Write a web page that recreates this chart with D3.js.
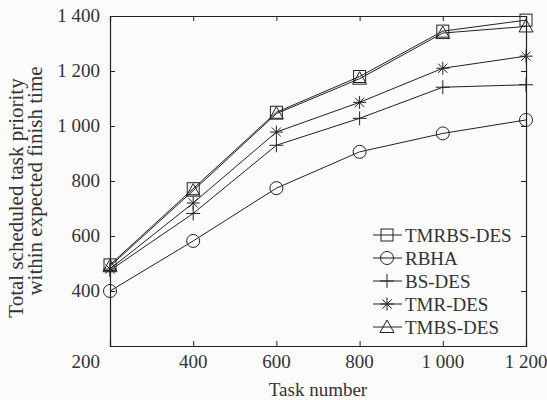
<!DOCTYPE html>
<html><head><meta charset="utf-8">
<script src="https://cdn.jsdelivr.net/npm/d3@7"></script>
<style>body{margin:0;background:#fbfbfb;} svg{display:block;} text{font-family:'Liberation Serif','Times New Roman',serif;}</style>
</head><body>
<script>
const taskNumbers = [200, 400, 600, 800, 1000, 1200];
const seriesNames = ["TMRBS-DES", "RBHA", "BS-DES", "TMR-DES", "TMBS-DES"];
const TMRBS_DES = [495, 772, 1050, 1180, 1345, 1385];
const RBHA = [400, 582, 774, 906, 973, 1022];
const BS_DES = [475, 682, 930, 1028, 1141, 1150];
const TMR_DES = [480, 720, 978, 1086, 1210, 1254];
const TMBS_DES = [490, 765, 1045, 1172, 1338, 1362];
const xTicks = [200, 400, 600, 800, 1000, 1200];
const yTicks = [200, 400, 600, 800, 1000, 1200, 1400];
const markers = ["square", "circle", "plus", "star", "triangle"];
const seriesValues = [TMRBS_DES, RBHA, BS_DES, TMR_DES, TMBS_DES];

const W = 547, H = 400;
const m = {left: 110, top: 16, right: 526, bottom: 346};
const svg = d3.select("body").append("svg").attr("width", W).attr("height", H);
svg.append("rect").attr("width", W).attr("height", H).attr("fill", "#fbfbfb");

const x = d3.scaleLinear().domain([200, 1200]).range([m.left, m.right]);
const y = d3.scaleLinear().domain([200, 1400]).range([m.bottom, m.top]);
const fmt = v => { const s = String(v); return s.length > 3 ? s.slice(0, s.length-3) + " " + s.slice(-3) : s; };
const ink = "#222";
const txt = "#333";

// axes with inward ticks
const tl = 5;
const gx = svg.append("g").attr("transform", `translate(0,${m.bottom})`)
  .call(d3.axisBottom(x).tickValues(xTicks).tickSize(-tl).tickFormat(""));
const gxt = svg.append("g").attr("transform", `translate(0,${m.top})`)
  .call(d3.axisTop(x).tickValues(xTicks).tickSize(-tl).tickFormat(""));
const gy = svg.append("g").attr("transform", `translate(${m.left},0)`)
  .call(d3.axisLeft(y).tickValues(yTicks).tickSize(-tl).tickFormat(""));
const gyr = svg.append("g").attr("transform", `translate(${m.right},0)`)
  .call(d3.axisRight(y).tickValues(yTicks).tickSize(-tl).tickFormat(""));
[gx, gxt, gy, gyr].forEach(g => {
  g.selectAll("path").attr("stroke", ink).attr("stroke-width", 1.2);
  g.selectAll("line").attr("stroke", ink).attr("stroke-width", 1);
});

// tick labels
svg.append("g").selectAll("text").data(xTicks.filter(d => d !== 200)).join("text")
  .attr("x", d => x(d)).attr("y", 368).attr("text-anchor", "middle")
  .attr("font-size", 19).attr("fill", txt).text(fmt);
svg.append("text").attr("x", 100).attr("y", 368).attr("text-anchor", "end")
  .attr("font-size", 19).attr("fill", txt).text(fmt(xTicks[0]));
svg.append("g").selectAll("text").data(yTicks.filter(d => d !== 200)).join("text")
  .attr("x", 100).attr("y", d => y(d) + 6).attr("text-anchor", "end")
  .attr("font-size", 19).attr("fill", txt).text(fmt);

// axis titles
svg.append("text").attr("x", 318).attr("y", 396).attr("text-anchor", "middle")
  .attr("font-size", 19).attr("fill", txt).text("Task number");
svg.append("text").attr("transform", "translate(23,198) rotate(-90)").attr("text-anchor", "middle")
  .attr("font-size", 21).attr("fill", txt).text("Total scheduled task priority");
svg.append("text").attr("transform", "translate(42,181) rotate(-90)").attr("text-anchor", "middle")
  .attr("font-size", 21).attr("fill", txt).text("within expected finish time");

// marker drawing
function drawMarker(g, type, cx, cy) {
  const s = g.append("g").attr("transform", `translate(${cx},${cy})`)
    .attr("fill", "none").attr("stroke", ink).attr("stroke-width", 1);
  if (type === "square") s.append("rect").attr("x", -6).attr("y", -6).attr("width", 12).attr("height", 12);
  else if (type === "circle") s.append("circle").attr("r", 6.5);
  else if (type === "plus") s.append("path").attr("d", "M-7,0H7M0,-7V7");
  else if (type === "star") s.append("path").attr("d", "M-6.5,0H6.5M0,-6.5V6.5M-4.6,-4.6L4.6,4.6M-4.6,4.6L4.6,-4.6");
  else if (type === "triangle") s.append("path").attr("d", "M0,-7L7,5.5H-7Z");
}

const line = d3.line().x(d => x(d[0])).y(d => y(d[1]));
seriesValues.forEach((vals, i) => {
  const pts = taskNumbers.map((t, j) => [t, vals[j]]);
  svg.append("path").datum(pts).attr("d", line).attr("fill", "none")
    .attr("stroke", ink).attr("stroke-width", 1);
  const g = svg.append("g");
  pts.forEach(p => drawMarker(g, markers[i], x(p[0]), y(p[1])));
});

// legend
const lg = svg.append("g");
seriesNames.forEach((name, i) => {
  const cy = 235 + i * 23;
  lg.append("line").attr("x1", 373).attr("x2", 402).attr("y1", cy).attr("y2", cy)
    .attr("stroke", ink).attr("stroke-width", 1);
  drawMarker(lg, markers[i], 387, cy);
  lg.append("text").attr("x", 405).attr("y", cy + 6.5)
    .attr("font-size", 19).attr("fill", txt).text(name);
});
</script>
</body></html>
